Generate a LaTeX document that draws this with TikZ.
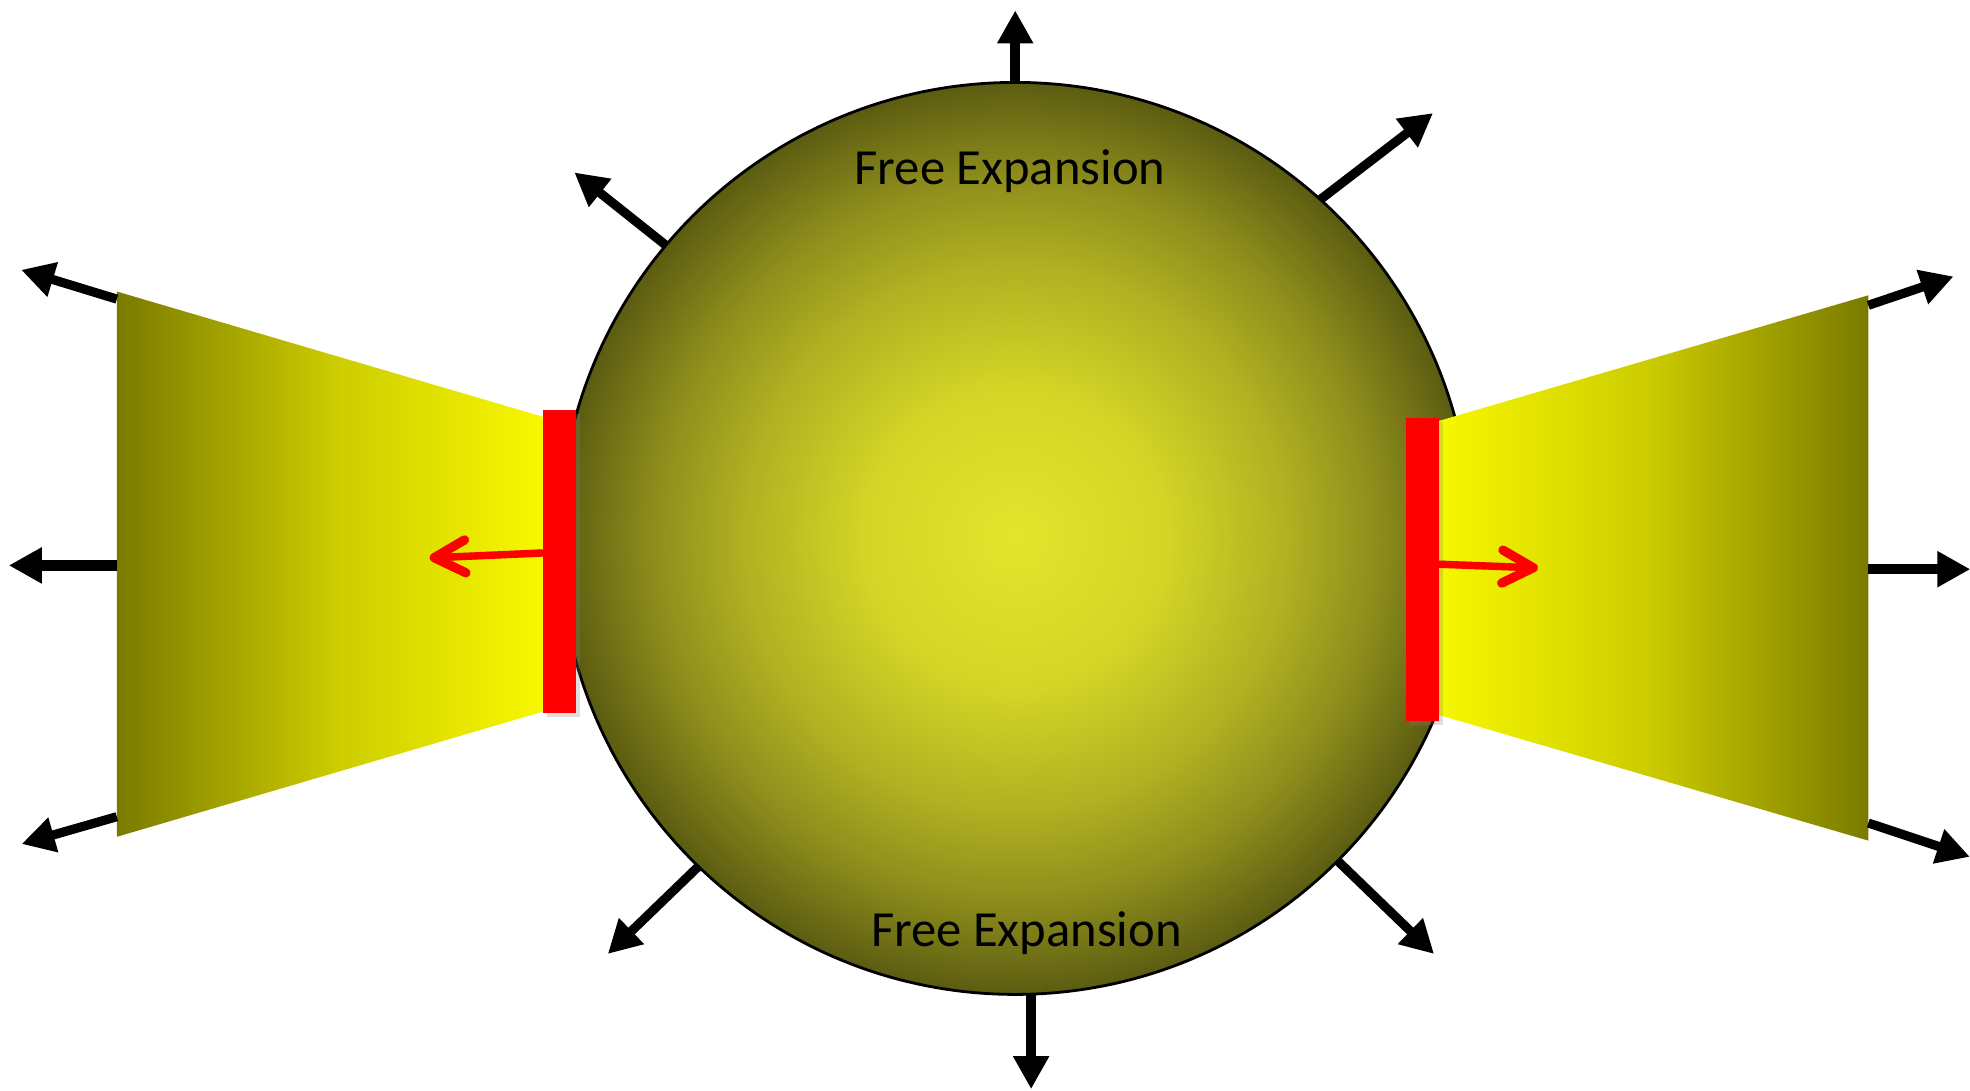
\documentclass[tikz,border=0pt]{standalone}
\usepackage{fontspec}
\setmainfont{Carlito}
\usetikzlibrary{arrows.meta,shadows}
\definecolor{olivedark}{RGB}{122,122,0}
\definecolor{olivemid}{RGB}{204,204,0}
\definecolor{brightyel}{RGB}{250,250,0}
\definecolor{gasin}{RGB}{226,228,44}
\definecolor{gasa}{RGB}{212,214,38}
\definecolor{gasb}{RGB}{176,176,34}
\definecolor{gasc}{RGB}{140,140,28}
\definecolor{gasout}{RGB}{92,92,18}
\pgfdeclareradialshading{gasglow}{\pgfpointorigin}{color(0bp)=(gasin); color(8bp)=(gasa); color(15bp)=(gasb); color(20bp)=(gasc); color(25bp)=(gasout); color(50bp)=(gasout)}
\pgfdeclarehorizontalshading{chamberL}{100bp}{color(0bp)=(olivedark); color(25bp)=(olivedark); color(50bp)=(olivemid); color(75bp)=(brightyel); color(100bp)=(brightyel)}
\pgfdeclarehorizontalshading{chamberR}{100bp}{color(0bp)=(brightyel); color(25bp)=(brightyel); color(50bp)=(olivemid); color(75bp)=(olivedark); color(100bp)=(olivedark)}

\begin{document}
\begin{tikzpicture}[
  outarrow/.style={-{Triangle[length=3.3mm,width=3.4mm]},line width=2.6pt},
  axisarrow/.style={outarrow,line width=3pt},
  pistonarrow/.style={-{Straight Barb[length=3.1mm,width=3.3mm,line width=2.6pt,round]},red,line width=2.1pt,line cap=round},
  pistonshadow/.style={pistonarrow,black,opacity=0.18,shift={(0.035,-0.045)}},
  redbar/.style={fill=red,minimum width=0.33cm,minimum height=3.03cm,inner sep=0pt,
    drop shadow={opacity=0.25,shadow xshift=0.04cm,shadow yshift=-0.04cm}},
  freetext/.style={font=\fontsize{14.4}{17}\selectfont,anchor=base}
]
\useasboundingbox (0,0) rectangle (19.70,10.906);

% gas ball
\node[circle,draw,line width=0.8pt,shade,shading=gasglow,minimum size=9.12cm,inner sep=0pt,outer sep=0pt] (gas) at (10.152,5.522) {};
\foreach \a/\d/\l/\s in {90/90/0.72/axisarrow, 48/37.5/1.42/outarrow, 140/141.5/1.17/outarrow,
  226/224/1.26/outarrow, 315/316/1.34/outarrow, 272/270/0.95/axisarrow}
  \draw[\s] (gas.\a) -- ++(\d:\l);

% left chamber
\shade[shading=chamberL] (1.168,7.991) -- (5.528,6.709) -- (5.528,3.819) -- (1.168,2.538) -- cycle;
\foreach \y/\d/\l/\s in {7.915/163/1.0/outarrow, 5.252/180/1.08/axisarrow, 2.739/196/0.99/outarrow}
  \draw[\s] (1.168,\y) -- ++(\d:\l);

% right chamber
\shade[shading=chamberR] (14.26,6.659) -- (18.683,7.953) -- (18.683,2.500) -- (14.26,3.794) -- cycle;
\foreach \y/\d/\l/\s in {7.853/18.7/0.90/outarrow, 5.214/0/1.02/axisarrow, 2.676/-18.4/1.07/outarrow}
  \draw[\s] (18.683,\y) -- ++(\d:\l);

% pistons
\node[redbar] (lbar) at (5.591,5.296) {};
\node[redbar] (rbar) at (14.222,5.208) {};
\coordinate (lpush) at (4.297,5.327);
\coordinate (rpush) at (15.378,5.227);
\draw[pistonshadow] ([yshift=0.08cm]lbar.west) -- (lpush);
\draw[pistonshadow] ([yshift=0.056cm]rbar.east) -- (rpush);
\draw[pistonarrow] ([yshift=0.08cm]lbar.west) -- (lpush);
\draw[pistonarrow] ([yshift=0.056cm]rbar.east) -- (rpush);

\node[freetext] (toptext) at (10.10,9.059) {Free Expansion};
\node[freetext] (bottext) at (10.265,1.445) {Free Expansion};
\end{tikzpicture}
\end{document}
